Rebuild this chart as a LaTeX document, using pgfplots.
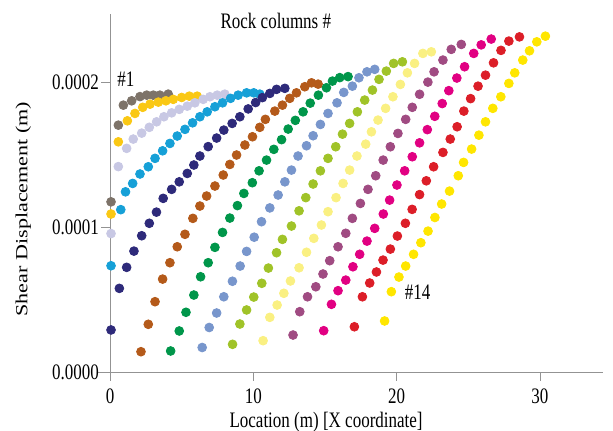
\documentclass[border=0pt]{standalone}
\usepackage{fontspec}
\setmainfont{Liberation Serif}
\usepackage{graphicx}
\usepackage{pgfplots}
\pgfplotsset{compat=1.18}

\definecolor{c01}{RGB}{125,115,105}
\definecolor{c02}{RGB}{250,200,20}
\definecolor{c03}{RGB}{200,200,228}
\definecolor{c04}{RGB}{22,160,215}
\definecolor{c05}{RGB}{46,42,122}
\definecolor{c06}{RGB}{180,90,26}
\definecolor{c07}{RGB}{0,150,74}
\definecolor{c08}{RGB}{120,150,204}
\definecolor{c09}{RGB}{160,195,40}
\definecolor{c10}{RGB}{250,240,130}
\definecolor{c11}{RGB}{160,75,130}
\definecolor{c12}{RGB}{225,0,130}
\definecolor{c13}{RGB}{220,30,40}
\definecolor{c14}{RGB}{255,230,0}

% text in the reference is stretched vertically
\newcommand{\tall}[1]{\scalebox{1}[1.3]{#1}}
\newcommand{\wide}[1]{\scalebox{1.3}[1]{#1}}

\begin{document}
\fontsize{8.5}{10}\selectfont
\begin{tikzpicture}
\useasboundingbox (-48.35pt,-29.5pt) rectangle (258.15pt,186pt);
\begin{axis}[
  scale only axis,
  width=253.15pt, height=179pt,
  xmin=-0.93, xmax=34.4,
  ymin=0, ymax=2.47e-4,
  axis x line=bottom,
  axis y line=center,
  hide obscured x ticks=false,
  hide obscured y ticks=false,
  axis line style={-, gray!85},
  tick style={gray!85},
  tick align=outside,
  major tick length=4.5pt,
  xtick={0,10,20,30},
  xticklabels={\tall{0},\tall{10},\tall{20},\tall{30}},
  ytick={0,1e-4,2e-4},
  yticklabels={\tall{0.0000},\tall{0.0001},\tall{0.0002}},
  scaled y ticks=false,
  tick label style={font=\fontsize{8.5}{10}\selectfont},
  x tick label style={yshift=-1pt},
  y tick label style={xshift=2pt},
  xlabel={\tall{Location (m) [X coordinate]}},
  ylabel={\wide{Shear Displacement (m)}},
  label style={font=\fontsize{8.5}{10}\selectfont},
  xlabel style={at={(axis description cs:0.453,-0.141)}, anchor=center},
  ylabel style={at={(axis description cs:-0.145,0.455)}, anchor=center, rotate=90},
  clip=false,
  every axis plot/.append style={only marks, mark=*, mark size=2.2pt},
]
% #1
\addplot[c01, mark options={fill=c01}] coordinates {
(0.07,1.174e-4)(0.58,1.703e-4)(0.93,1.841e-4)(1.51,1.871e-4)(2.09,1.900e-4)
(2.56,1.910e-4)(3.02,1.910e-4)(3.48,1.910e-4)(4.06,1.917e-4)};
% #2
\addplot[c02, mark options={fill=c02}] coordinates {
(0.07,1.090e-4)(0.58,1.588e-4)(1.21,1.733e-4)(1.74,1.784e-4)(2.28,1.826e-4)
(2.79,1.848e-4)(3.37,1.862e-4)(3.90,1.871e-4)(4.41,1.881e-4)(5.00,1.894e-4)
(5.53,1.903e-4)(6.08,1.903e-4)};
% #3
\addplot[c03, mark options={fill=c03}] coordinates {
(0.07,0.955e-4)(0.58,1.417e-4)(1.16,1.543e-4)(1.62,1.607e-4)(2.21,1.648e-4)
(2.74,1.688e-4)(3.25,1.726e-4)(3.76,1.761e-4)(4.30,1.788e-4)(4.83,1.812e-4)
(5.39,1.834e-4)(5.92,1.857e-4)(6.50,1.881e-4)(6.97,1.899e-4)(7.48,1.910e-4)
(8.01,1.917e-4)};
% #4
\addplot[c04, mark options={fill=c04}] coordinates {
(0.07,0.733e-4)(0.75,1.120e-4)(1.08,1.243e-4)(1.58,1.301e-4)(2.09,1.366e-4)
(2.67,1.416e-4)(3.14,1.474e-4)(3.67,1.526e-4)(4.18,1.577e-4)(4.69,1.628e-4)
(5.23,1.674e-4)(5.76,1.719e-4)(6.27,1.761e-4)(6.78,1.795e-4)(7.32,1.830e-4)
(7.85,1.857e-4)(8.41,1.888e-4)(8.94,1.910e-4)(9.53,1.926e-4)(10.03,1.926e-4)
(10.45,1.917e-4)};
% #5
\addplot[c05, mark options={fill=c05}] coordinates {
(0.07,0.290e-4)(0.65,0.577e-4)(1.16,0.722e-4)(1.67,0.834e-4)(2.21,0.940e-4)
(2.74,1.026e-4)(3.24,1.103e-4)(3.71,1.198e-4)(4.30,1.260e-4)(4.83,1.312e-4)
(5.39,1.370e-4)(5.85,1.428e-4)(6.27,1.490e-4)(6.85,1.555e-4)(7.44,1.614e-4)
(7.94,1.669e-4)(8.52,1.715e-4)(9.06,1.761e-4)(9.64,1.815e-4)(10.16,1.859e-4)
(10.63,1.893e-4)(11.15,1.922e-4)(11.62,1.950e-4)(12.20,1.957e-4)};
% #6
\addplot[c06, mark options={fill=c06}] coordinates {
(2.16,0.140e-4)(2.67,0.329e-4)(3.14,0.485e-4)(3.67,0.641e-4)(4.18,0.754e-4)
(4.69,0.864e-4)(5.23,0.950e-4)(5.78,1.060e-4)(6.27,1.145e-4)(6.74,1.214e-4)
(7.32,1.283e-4)(7.90,1.359e-4)(8.36,1.432e-4)(8.83,1.497e-4)(9.41,1.566e-4)
(9.94,1.623e-4)(10.45,1.688e-4)(10.84,1.743e-4)(11.50,1.800e-4)(12.03,1.841e-4)
(12.54,1.888e-4)(13.01,1.926e-4)(13.59,1.968e-4)(14.06,1.995e-4)(14.52,1.986e-4)};
% #7
\addplot[c07, mark options={fill=c07}] coordinates {
(4.23,0.145e-4)(4.83,0.283e-4)(5.30,0.412e-4)(5.85,0.531e-4)(6.32,0.657e-4)
(6.85,0.754e-4)(7.32,0.860e-4)(7.85,0.963e-4)(8.36,1.062e-4)(8.89,1.148e-4)
(9.34,1.232e-4)(9.93,1.306e-4)(10.40,1.388e-4)(10.92,1.462e-4)(11.43,1.536e-4)
(11.97,1.603e-4)(12.43,1.676e-4)(12.93,1.736e-4)(13.47,1.795e-4)(13.97,1.855e-4)
(14.54,1.910e-4)(15.10,1.961e-4)(15.52,2.007e-4)(16.03,2.031e-4)(16.61,2.038e-4)};
% #8
\addplot[c08, mark options={fill=c08}] coordinates {
(6.43,0.169e-4)(6.92,0.307e-4)(7.44,0.407e-4)(7.94,0.519e-4)(8.54,0.626e-4)
(9.08,0.731e-4)(9.53,0.832e-4)(10.06,0.930e-4)(10.57,1.037e-4)(11.15,1.132e-4)
(11.73,1.221e-4)(12.20,1.312e-4)(12.66,1.393e-4)(13.12,1.490e-4)(13.71,1.561e-4)
(14.17,1.630e-4)(14.68,1.708e-4)(15.21,1.784e-4)(15.84,1.857e-4)(16.31,1.929e-4)
(16.91,1.972e-4)(17.37,2.030e-4)(17.93,2.071e-4)(18.47,2.088e-4)};
% #9
\addplot[c09, mark options={fill=c09}] coordinates {
(8.55,0.191e-4)(9.06,0.331e-4)(9.53,0.428e-4)(10.03,0.517e-4)(10.59,0.612e-4)
(11.05,0.717e-4)(11.62,0.823e-4)(12.03,0.915e-4)(12.66,1.007e-4)(13.19,1.112e-4)
(13.66,1.203e-4)(14.17,1.297e-4)(14.68,1.388e-4)(15.21,1.474e-4)(15.75,1.554e-4)
(16.22,1.641e-4)(16.72,1.715e-4)(17.26,1.795e-4)(17.77,1.876e-4)(18.31,1.945e-4)
(18.77,2.019e-4)(19.28,2.076e-4)(19.79,2.129e-4)(20.40,2.140e-4)};
% #10
\addplot[c10, mark options={fill=c10}] coordinates {
(10.68,0.216e-4)(11.15,0.377e-4)(11.66,0.462e-4)(12.13,0.543e-4)(12.59,0.628e-4)
(13.19,0.719e-4)(13.71,0.826e-4)(14.22,0.922e-4)(14.75,1.014e-4)(15.21,1.106e-4)
(15.77,1.203e-4)(16.26,1.301e-4)(16.72,1.393e-4)(17.23,1.490e-4)(17.84,1.572e-4)
(18.24,1.657e-4)(18.70,1.738e-4)(19.23,1.819e-4)(19.74,1.899e-4)(20.26,1.984e-4)
(20.75,2.064e-4)(21.25,2.129e-4)(21.83,2.198e-4)(22.42,2.209e-4)};
% #11
\addplot[c11, mark options={fill=c11}] coordinates {
(12.77,0.255e-4)(13.24,0.416e-4)(13.78,0.519e-4)(14.36,0.588e-4)(14.86,0.676e-4)
(15.33,0.768e-4)(15.91,0.864e-4)(16.45,0.957e-4)(16.91,1.060e-4)(17.47,1.163e-4)
(18.00,1.260e-4)(18.54,1.354e-4)(19.06,1.462e-4)(19.56,1.554e-4)(20.09,1.646e-4)
(20.63,1.743e-4)(21.09,1.826e-4)(21.60,1.916e-4)(22.18,2.000e-4)(22.61,2.071e-4)
(23.23,2.152e-4)(23.81,2.226e-4)(24.51,2.260e-4)};
% #12
\addplot[c12, mark options={fill=c12}] coordinates {
(14.91,0.285e-4)(15.45,0.467e-4)(15.91,0.561e-4)(16.45,0.634e-4)(16.95,0.726e-4)
(17.42,0.812e-4)(17.93,0.903e-4)(18.47,0.991e-4)(19.07,1.090e-4)(19.51,1.186e-4)
(20.02,1.290e-4)(20.56,1.388e-4)(21.09,1.485e-4)(21.60,1.581e-4)(22.14,1.672e-4)
(22.66,1.764e-4)(23.18,1.852e-4)(23.64,1.941e-4)(24.20,2.028e-4)(24.74,2.106e-4)
(25.38,2.198e-4)(25.90,2.257e-4)(26.60,2.297e-4)};
% #13
\addplot[c13, mark options={fill=c13}] coordinates {
(17.05,0.312e-4)(17.61,0.519e-4)(18.12,0.614e-4)(18.59,0.690e-4)(19.05,0.772e-4)
(19.56,0.848e-4)(20.05,0.938e-4)(20.61,1.026e-4)(21.08,1.122e-4)(21.60,1.224e-4)
(22.07,1.319e-4)(22.58,1.416e-4)(23.23,1.515e-4)(23.74,1.607e-4)(24.22,1.692e-4)
(24.69,1.800e-4)(25.16,1.886e-4)(25.68,1.972e-4)(26.20,2.048e-4)(26.76,2.133e-4)
(27.28,2.219e-4)(27.83,2.283e-4)(28.57,2.312e-4)};
% #14
\addplot[c14, mark options={fill=c14}] coordinates {
(19.16,0.352e-4)(19.63,0.554e-4)(20.16,0.655e-4)(20.63,0.731e-4)(21.18,0.812e-4)
(21.69,0.892e-4)(22.19,0.972e-4)(22.67,1.066e-4)(23.14,1.159e-4)(23.69,1.248e-4)
(24.30,1.354e-4)(24.67,1.446e-4)(25.23,1.538e-4)(25.74,1.634e-4)(26.20,1.726e-4)
(26.71,1.819e-4)(27.27,1.899e-4)(27.83,1.991e-4)(28.24,2.064e-4)(28.80,2.152e-4)
(29.27,2.216e-4)(29.78,2.278e-4)(30.38,2.317e-4)};

\node[font=\fontsize{8.5}{10}\selectfont] at (axis cs:11.57,2.42e-4) {\tall{Rock columns \#}};
\node[font=\fontsize{8.5}{10}\selectfont] at (axis cs:1.11,2.02e-4) {\tall{\#1}};
\node[font=\fontsize{8.5}{10}\selectfont] at (axis cs:21.46,0.552e-4) {\tall{\#14}};
\end{axis}
\end{tikzpicture}
\end{document}
